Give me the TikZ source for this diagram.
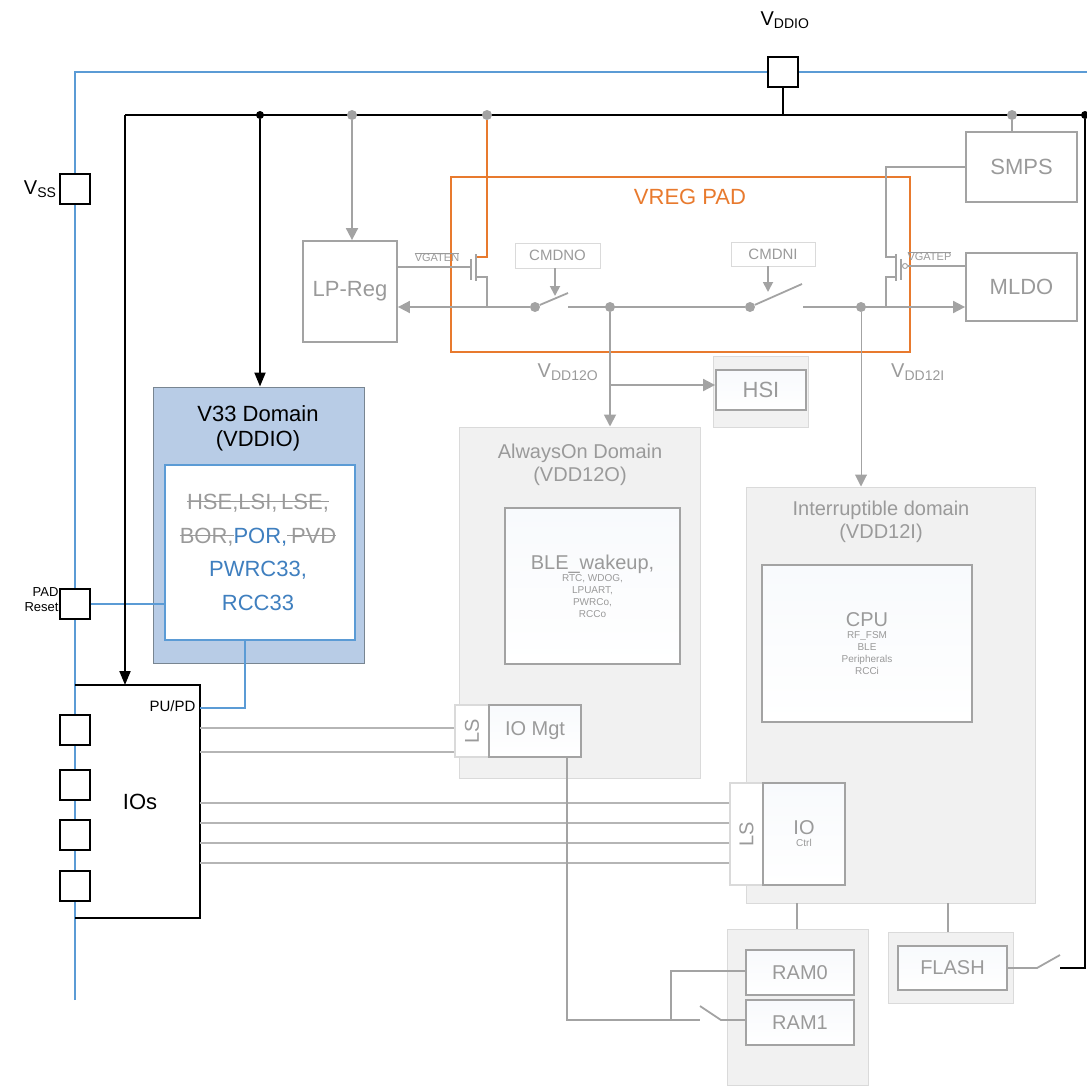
\documentclass[tikz,border=0pt]{standalone}
\usepackage{fontspec}
\setmainfont{Liberation Sans}
\usetikzlibrary{arrows.meta}
\definecolor{gl}{HTML}{A3A3A3}
\definecolor{gt}{HTML}{9A9A9A}
\definecolor{bl}{HTML}{5B9BD5}
\definecolor{bt}{HTML}{3F7FBF}
\definecolor{bf}{HTML}{B8CCE6}
\definecolor{og}{HTML}{E87A2E}
\definecolor{df}{HTML}{F1F1F1}
\definecolor{db}{HTML}{DADADA}
\newcommand\fs[1]{\fontsize{#1pt}{\dimexpr #1pt*115/100\relax}\selectfont}
\newcommand\strk[1]{\setbox0\hbox{#1}\rlap{\usebox0}\textcolor{gt}{\rule[0.33em]{\wd0}{1.5pt}}}
\newcommand\bx[7]{\node[#6, minimum width={(#4-#2)*1pt}, minimum height={(#5-#3)*1pt}, inner sep=0pt, align=center] (#1) at ({(#2+#4)/2},{(#3+#5)/2}) {#7};}
\tikzset{
 fs/.style={font=\fs{#1}},
 gbox/.style={draw=gl, line width=1.8pt, text=gt},
 ibox/.style={draw=gl, line width=1.8pt, text=gt, top color=white!90!bf, bottom color=white},
 dom/.style={draw=db, fill=df, line width=1pt, text=gt},
 gw/.style={gl, line width=1.8pt},
 gar/.style={gl, line width=1.8pt, -{Triangle[length=12pt,width=12pt]}},
 sq/.style={draw=black, line width=1.5pt, fill=white, minimum size=30pt, inner sep=0pt},
 bk/.style={black, line width=2pt},
 bln/.style={bl, line width=2pt},
 gdot/.style={circle, fill=gl, inner sep=0pt, minimum size=10pt},
 kdot/.style={circle, fill=black, inner sep=0pt, minimum size=8pt},
}
\begin{document}
\begin{tikzpicture}[x=1pt,y=-1pt]
\useasboundingbox (0,0) rectangle (1087,1087);
% VSS / VDDIO rails
\coordinate (vt) at (75,72); \coordinate (vb) at (75,1000); \coordinate (vr) at (1087,72);
\draw[bln] (vb) -- (vt) -- (vr);
\coordinate (kl) at (125,115); \coordinate (kr) at (1085,115);
\node[sq] (vddio) at (783,72) {};
\node[fs=20] (vddiol) at (785,20) {V\textsubscript{DDIO}};
\draw[bk] (vddio.south) -- (783,115);
\draw[bk] (kl) -- (kr);
\node[kdot] (kd1) at (260,115) {}; \node[kdot] (kd2) at (kr) {};
\node[sq] (vss) at (75,189) {};
\node[fs=20, anchor=east] (vssl) at (60,189) {V\textsubscript{SS}};
\node[sq] (pad) at (75,604) {};
\node[fs=13, align=right, anchor=east] (padl) at (62,600) {PAD\\Reset};
% V33 domain
\bx{v33}{153}{387}{364}{663}{draw=gray!80!bl, fill=bf, line width=1pt}{}
\node[fs=22, align=center] (v33t) at (258,428) {V33 Domain\\(VDDIO)};
\bx{v33i}{165}{465}{355}{640}{draw=bl, fill=white, line width=2pt}{}
\node[fs=22, text=gt] (t1) at (258,503) {\strk{HSE,LSI,\,LSE,}};
\node[fs=22] (t2) at (258,537) {\textcolor{gt}{\strk{BOR,}}\textcolor{bt}{POR,}\textcolor{gt}{\strk{\,PVD}}};
\node[fs=22, text=bt] (t3) at (258,570) {PWRC33,};
\node[fs=22, text=bt] (t4) at (258,603) {RCC33};
\draw[bk, -{Triangle[length=14pt,width=11pt]}] (kd1) -- (v33.north -| kd1);
\draw[bln] (pad.east) -- (165,604);
% IOs
\draw[black, line width=2pt] (75,685) -- (200,685) -- (200,918) -- (75,918);
\coordinate (ios) at (200,708);
\draw[bk, -{Triangle[length=14pt,width=11pt]}] (kl) -- (125,685);
\foreach \y/\n in {730/a,785/b,835/c,886/d}{\node[sq] (io\n) at (75,\y) {};}
\node[fs=22] (iosl) at (140,802) {IOs};
\node[fs=15, anchor=east] (pupd) at (199,706) {PU/PD};
\draw[bln] (v33i.south -| 245,0) -- (245,708) -- (ios);
% VREG PAD
\bx{vreg}{451}{177}{910}{352}{draw=og, line width=1.8pt}{}
\node[fs=22, text=og] (vregl) at (690,197) {VREG PAD};
\bx{lpreg}{303}{241}{397}{342}{gbox}{\fs{22}LP-Reg}
\bx{smps}{966}{132}{1077}{202}{gbox}{\fs{22}SMPS}
\bx{mldo}{966}{253}{1077}{321}{gbox}{\fs{22}MLDO}
\node[gdot] (g1) at (352,115) {}; \node[gdot] (g2) at (487,115) {}; \node[gdot] (g3) at (1012,115) {};
\draw[gar] (g1) -- (lpreg.north -| g1);
\draw[gw] (g3) -- (smps.north -| g3);
% left nmos
\draw[og, line width=1.8pt] (g2) -- (487,257) -- (476,257);
\draw[gw] (476,254) -- (476,281); \draw[gw] (471,259) -- (471,280);
\draw[gw] (476,277) -- (487,277) -- (487,307);
\draw[gw] (397,267) -- (471,267);
\node[fs=11, text=gt] (vgaten) at (437,257) {$\overline{\mbox{VGATEN}}$};
% main line
\node[gdot] (s1) at (535,307) {}; \node[gdot] (d1) at (610,307) {};
\node[gdot] (s2) at (750,307) {}; \node[gdot] (d2) at (861,307) {};
\draw[gar] (s1) -- (lpreg.east |- s1);
\draw[gw] (s1) -- (568,293);
\draw[gw] (568,307) -- (s2);
\draw[gw] (s2) -- (802,284);
\draw[gar] (803,307) -- (mldo.west |- 0,307);
\bx{cmdno}{515}{243}{600}{268}{draw=db, line width=1pt, text=gt}{\fs{15}CMDNO}
\bx{cmdni}{731}{242}{815}{266}{draw=db, line width=1pt, text=gt}{\fs{15}CMDNI}
\draw[gl, line width=1.8pt, -{Triangle[length=10pt,width=10pt]}] (555,268) -- (555,296);
\draw[gl, line width=1.8pt, -{Triangle[length=10pt,width=10pt]}] (768,266) -- (768,292);
% right pmos
\draw[gw] (smps.west |- 0,167) -- (886,167) -- (886,257) -- (896,257);
\draw[gw] (896,254) -- (896,281); \draw[gw] (901,259) -- (901,280);
\draw[gw] (896,277) -- (886,277) -- (886,307);
\draw[gl, line width=1pt] (905,266) circle (2.5pt);
\draw[gw] (908,266) -- (mldo.west |- 0,266);
\node[fs=11, text=gt, anchor=west] (vgatep) at (904,256) {$\overline{\mbox{VGATEP}}$};
% labels
\node[fs=20, text=gt] (vdd12o) at (568,372) {V\textsubscript{DD12O}};
\node[fs=20, text=gt] (vdd12i) at (918,372) {V\textsubscript{DD12I}};
% HSI
\bx{hsio}{713}{356}{808}{427}{draw=db, fill=df, line width=1pt}{}
\bx{hsi}{716}{370}{806}{410}{ibox}{\fs{22}HSI}
% AlwaysOn
\bx{aon}{459}{427}{700}{778}{dom}{}
\node[fs=20, text=gt, align=center] (aont) at (580,465) {AlwaysOn Domain\\(VDD12O)};
\bx{aoni}{505}{508}{680}{664}{ibox}{\fs{20}BLE\_wakeup,\\RTC, WDOG,\\LPUART,\\PWRCo,\\RCCo}
\draw[gar] (d1) -- (aon.north -| d1);
\draw[gar] (610,385) -- (hsi.west |- 0,385);
% interruptible
\bx{intd}{746}{487}{1035}{903}{dom}{}
\node[fs=20, text=gt, align=center] (intt) at (881,522) {Interruptible domain\\(VDD12I)};
\bx{inti}{762}{565}{972}{722}{ibox}{\fs{20}CPU\\RF\_FSM\\BLE\\Peripherals\\RCCi}
\draw[gl, line width=1pt, -{Triangle[length=12pt,width=12pt]}] (d2) -- (intd.north -| d2);
% IO Mgt / Ctrl
\bx{ls1}{455}{705}{489}{757}{draw=db, fill=white, line width=1.5pt}{\rotatebox{90}{\fs{20}\color{gt}LS}}
\bx{iomgt}{489}{705}{581}{757}{ibox}{\fs{20}IO Mgt}
\bx{ls2}{730}{783}{763}{885}{draw=db, fill=white, line width=1.5pt}{\rotatebox{90}{\fs{20}\color{gt}LS}}
\bx{ioctrl}{763}{783}{845}{885}{ibox}{\fs{20}IO\\Ctrl}
\foreach \y in {728,752}{\draw[gl!80, line width=2pt] (200,\y) -- (ls1.west |- 0,\y);}
\foreach \y in {803,823,843,863}{\draw[gl!80, line width=2pt] (200,\y) -- (ls2.west |- 0,\y);}
% RAM / FLASH
\bx{ramg}{727}{929}{868}{1085}{dom}{}
\bx{ram0}{746}{950}{854}{995}{ibox}{\fs{20}RAM0}
\bx{ram1}{746}{1000}{854}{1045}{ibox}{\fs{20}RAM1}
\bx{flg}{888}{932}{1013}{1003}{dom}{}
\bx{flash}{898}{946}{1007}{990}{ibox}{\fs{20}FLASH}
\draw[gw] (797,903) -- (797,929);
\draw[gw] (948,903) -- (948,932);
\draw[gw] (567,757) -- (567,1020) -- (700,1020);
\draw[gw] (671,1020) -- (671,971) -- (ram0.west |- 0,971);
\draw[gw] (700,1006) -- (721,1020) -- (ram1.west |- 0,1020);
\draw[gw] (flash.east |- 0,968) -- (1037,968) -- (1060,955);
\draw[bk] (kd2) -- (1085,968) -- (1060,968);
\end{tikzpicture}
\end{document}
